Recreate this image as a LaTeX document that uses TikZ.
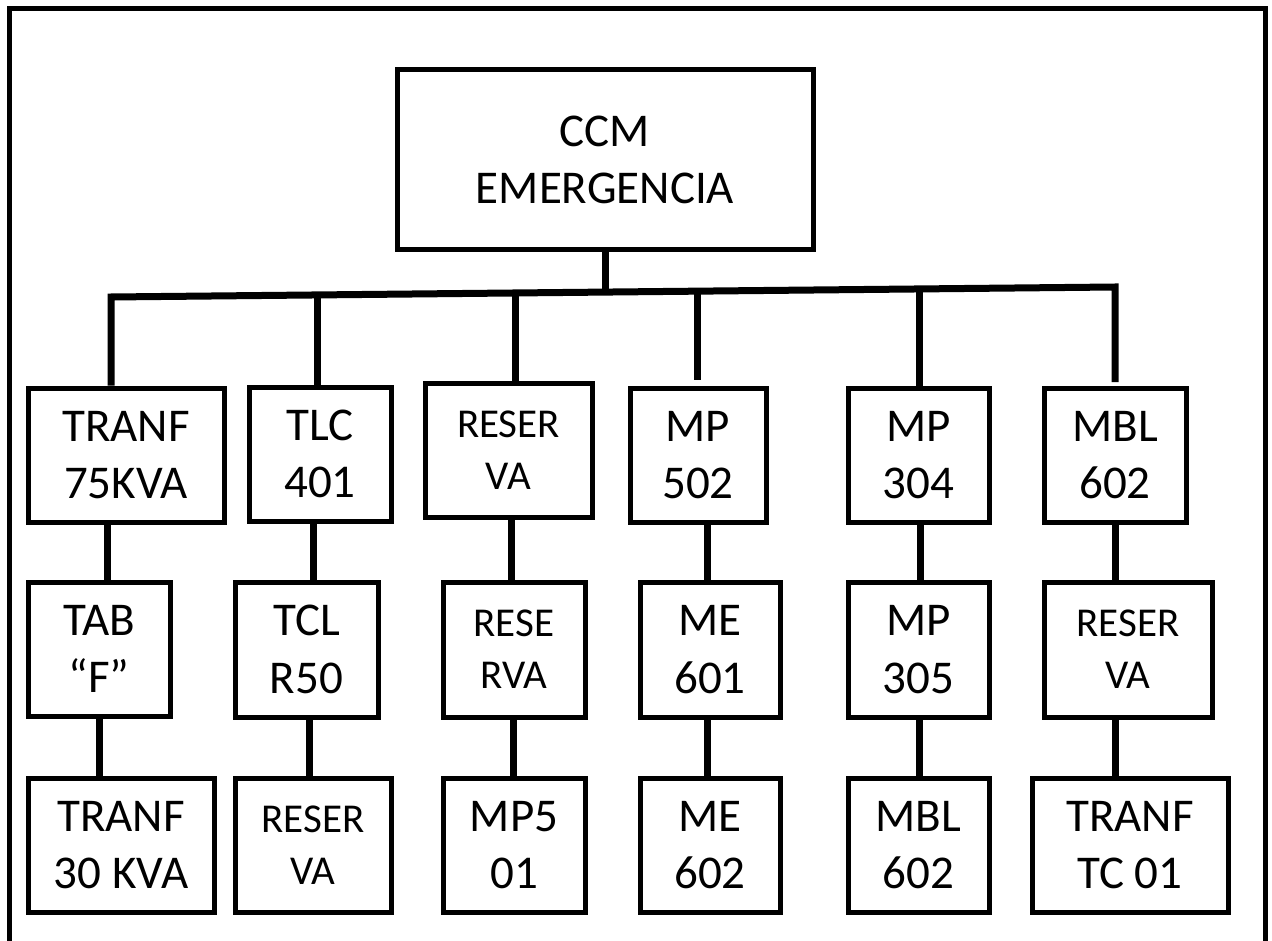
\documentclass[tikz,border=0pt]{standalone}
\usepackage{fontspec}
\setmainfont{Carlito}
\newcommand\labelbig{\fontsize{47}{57.5}\selectfont}
\newcommand\labelsmall{\fontsize{41}{52}\selectfont}
% \unitbox[style]{name}{left}{top}{right}{bottom}{text}
\newcommand\unitbox[7][]{%
  \node[unit,#1,minimum width={#5pt-#3pt},minimum height={#6pt-#4pt}]
    (#2) at ({(#3+#5)/2},{(#4+#6)/2}) {#7};}
\begin{document}
\begin{tikzpicture}[x=1pt,y=-1pt,
  unit/.style={draw=black, line width=5pt, inner sep=0pt, align=center, font=\labelbig},
  small/.style={font=\labelsmall},
  wire/.style={draw=black, line width=7pt},
  frame/.style={draw=black, line width=5pt, line join=miter}]
\useasboundingbox (0,0) rectangle (1272,941);

% open outer frame
\coordinate (fbl) at (9.8,945);
\coordinate (ftl) at (9.8,8.5);
\coordinate (ftr) at (1265.8,8.5);
\coordinate (fbr) at (1265.8,945);
\draw[frame] (fbl) -- (ftl) -- (ftr) -- (fbr);

% main board
\unitbox{ccm}{397}{70}{813}{250}{CCM\\EMERGENCIA}

% first level
\unitbox{A1}{28}{388}{224}{522}{TRANF\\75KVA}
\unitbox{B1}{249}{387}{391}{521}{TLC\\401}
\unitbox[small]{C1}{425}{383}{592}{517}{RESER\\VA}
\unitbox{D1}{630}{388}{766}{522}{MP\\502}
\unitbox{E1}{848}{388}{989}{522}{MP\\304}
\unitbox{F1}{1044}{388}{1186}{522}{MBL\\602}

% second level
\unitbox{A2}{28}{582}{170}{716}{TAB\\“F”}
\unitbox{B2}{235}{582}{378}{717}{TCL\\R50}
\unitbox[small]{C2}{443}{582}{585}{717}{RESE\\RVA}
\unitbox{D2}{640}{582}{780}{717}{ME\\601}
\unitbox{E2}{848}{582}{989}{717}{MP\\305}
\unitbox[small]{F2}{1044}{582}{1212}{717}{RESER\\VA}

% third level
\unitbox{A3}{28}{778}{214}{912}{TRANF\\30 KVA}
\unitbox[small]{B3}{235}{778}{391}{912}{RESER\\VA}
\unitbox{C3}{443}{778}{585}{912}{MP5\\01}
\unitbox{D3}{640}{778}{780}{912}{ME\\602}
\unitbox{E3}{848}{778}{989}{912}{MBL\\602}
\unitbox{F3}{1032}{778}{1228}{912}{TRANF\\TC 01}

% distribution bus and its taps
\coordinate (busL) at (111,297);
\coordinate (busR) at (1115,287);
\coordinate (tapB) at (317,294.95);
\coordinate (tapC) at (515,292.98);
\coordinate (tapM) at (605,292.08);
\coordinate (tapD) at (697,291.16);
\coordinate (tapE) at (919,288.95);

\draw[wire, line join=miter] (A1.north -| busL) -- (busL) -- (busR)
  -- ([yshift=3.5pt]F1.north -| busR);
\draw[wire] (ccm.south) -- (tapM);
\draw[wire] (tapB) -- (B1.north -| tapB);
\draw[wire] (tapC) -- (C1.north -| tapC);
\draw[wire] (tapD) -- ([yshift=5.5pt]D1.north -| tapD);
\draw[wire] (tapE) -- (E1.north -| tapE);

% branch feeders
\draw[wire] (A1.south -| 107,0) -- (A2.north -| 107,0);
\draw[wire] (A2.south -| 99,0) -- (A3.north -| 99,0);
\draw[wire] (B1.south -| 313,0) -- (B2.north -| 313,0);
\draw[wire] (B2.south -| 309,0) -- (B3.north -| 309,0);
\draw[wire] (C1.south -| 511,0) -- (C2.north -| 511,0);
\draw[wire] (C2.south -| 513,0) -- (C3.north -| 513,0);
\draw[wire] (D1.south -| 707,0) -- (D2.north -| 707,0);
\draw[wire] (D2.south -| 707,0) -- (D3.north -| 707,0);
\draw[wire] (E1.south -| 920,0) -- (E2.north -| 920,0);
\draw[wire] (E2.south -| 919,0) -- (E3.north -| 919,0);
\draw[wire] (F1.south -| 1115,0) -- (F2.north -| 1115,0);
\draw[wire] (F2.south -| 1115,0) -- (F3.north -| 1115,0);
\end{tikzpicture}
\end{document}
